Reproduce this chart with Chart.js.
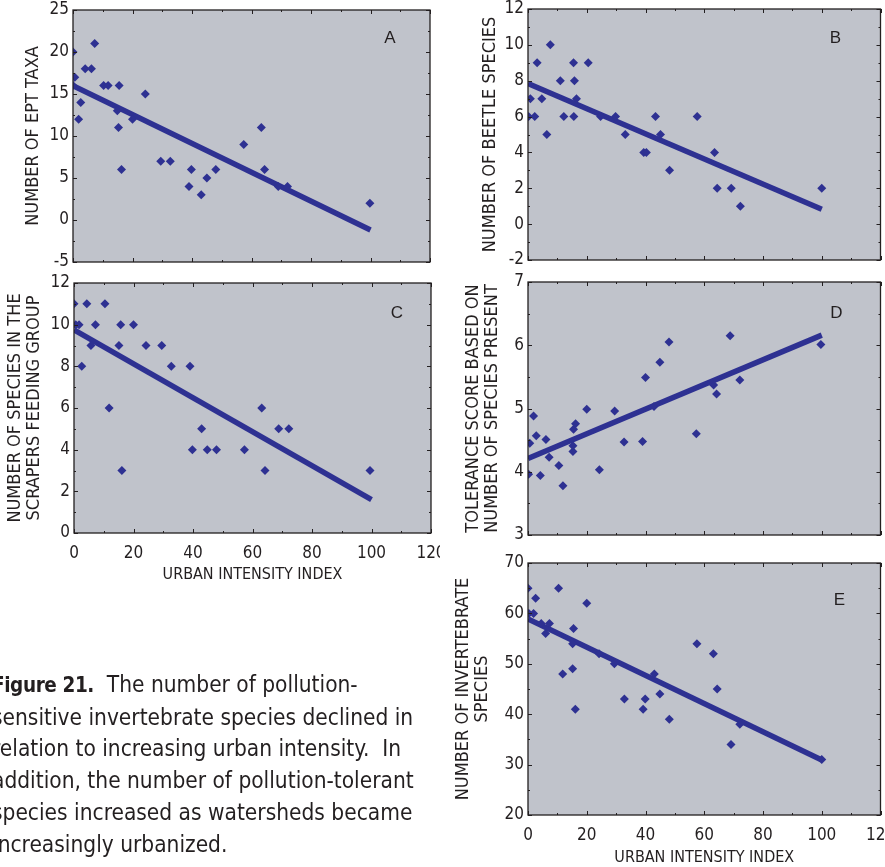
<!DOCTYPE html>
<html>
<head>
<meta charset="utf-8">
<script src="https://cdn.jsdelivr.net/npm/chart.js@4.4.1/dist/chart.umd.min.js"></script>
<style>
  body { margin: 0; background: #fff; width: 885px; height: 867px; overflow: hidden; position: relative;
         font-family: "Liberation Sans Narrow", "Arial Narrow", "DejaVu Sans Condensed", sans-serif; color: #231f20; }
  canvas { position: absolute; }
  .caption { position: absolute; left: -8px; top: 669px; width: 480px; font-size: 22.5px; line-height: 31.7px; }
  .caption b { font-weight: bold; font-size: 20.5px; letter-spacing: -0.4px; }
</style>
</head>
<body>
<canvas id="chart-a" width="440" height="272" style="left:0;top:0"></canvas>
<canvas id="chart-b" width="445" height="272" style="left:440px;top:0"></canvas>
<canvas id="chart-c" width="440" height="320" style="left:0;top:270px"></canvas>
<canvas id="chart-d" width="445" height="272" style="left:440px;top:270px"></canvas>
<canvas id="chart-e" width="445" height="317" style="left:440px;top:550px"></canvas>
<div class="caption"><b>Figure 21.</b>&nbsp; The number of pollution-<br>sensitive invertebrate species declined in<br>relation to increasing urban intensity.&nbsp; In<br>addition, the number of pollution-tolerant<br>species increased as watersheds became<br>increasingly urbanized.</div>

<script>
// --- DATA ---
const trendX = [0, 100];

// A. EPT taxa
const urbanA = [0, 0.6, 0, 2.6, 1.9, 4.1, 6.2, 7.3, 10.3, 11.8, 15.5, 14.9, 15.3, 16.3, 20, 24.3, 29.5, 32.7, 39, 39.8, 43.1, 45, 48, 57.4, 63.3, 64.4, 69, 72.1, 99.8];
const eptTaxa = [20, 17, 16, 14, 12, 18, 18, 21, 16, 16, 16, 13, 11, 6, 12, 15, 7, 7, 4, 6, 3, 5, 6, 9, 11, 6, 4, 4, 2];
const eptTrend = [16.0, -1.2];

// B. Beetle species
const urbanB = [0.2, 0.8, 2.3, 3.1, 4.7, 6.4, 7.6, 11, 12.2, 15.5, 15.8, 16.5, 15.6, 20.5, 24.7, 29.8, 33.1, 39.4, 40.3, 43.4, 45.1, 48.2, 57.6, 63.5, 64.4, 69.2, 72.3, 100];
const beetleSpecies = [6, 7, 6, 9, 7, 5, 10, 8, 6, 9, 8, 7, 6, 9, 6, 6, 5, 4, 4, 6, 5, 3, 6, 4, 2, 2, 1, 2];
const beetleTrend = [7.85, 0.83];

// C. Scrapers feeding group
const urbanC = [0, 0.6, 1.7, 2.6, 4.3, 5.7, 7.2, 10.4, 11.8, 15.7, 15.1, 16.1, 20, 24.2, 29.5, 32.7, 39, 39.8, 42.9, 44.8, 47.9, 57.3, 63.1, 64.2, 68.8, 72.2, 99.5];
const scraperSpecies = [11, 10, 10, 8, 11, 9, 10, 11, 6, 10, 9, 3, 10, 9, 9, 8, 8, 4, 5, 4, 4, 4, 6, 3, 5, 5, 3];
const scraperTrend = [9.75, 1.6];

// D. Tolerance score
const urbanD = [0.2, 0.6, 1.9, 2.8, 4.2, 6.1, 7.2, 10.5, 11.9, 15.3, 15.3, 15.5, 16.2, 20, 24.3, 29.5, 32.7, 39, 40, 42.9, 44.9, 48, 57.3, 63.2, 64.2, 68.8, 72.1, 99.7];
const toleranceScore = [3.96, 4.45, 4.88, 4.57, 3.94, 4.51, 4.23, 4.1, 3.78, 4.32, 4.41, 4.67, 4.76, 4.99, 4.03, 4.96, 4.47, 4.48, 5.49, 5.03, 5.73, 6.05, 4.6, 5.37, 5.23, 6.15, 5.45, 6.01];
const toleranceTrend = [4.21, 6.16];

// E. Invertebrate species
const urbanE = [0, 0.3, 1.9, 2.6, 4.5, 6, 7.3, 10.4, 11.8, 15.5, 15.2, 15.2, 16.1, 20, 24.2, 29.4, 32.8, 39.2, 39.9, 43, 44.9, 48.1, 57.5, 63.1, 64.4, 69.1, 72.1, 100];
const invertSpecies = [65, 60, 60, 63, 58, 56, 58, 65, 48, 57, 54, 49, 41, 62, 52, 50, 43, 41, 43, 48, 44, 39, 54, 52, 45, 34, 38, 31];
const invertTrend = [58.9, 30.9];

const BLUE = '#2e3192';
const PANEL_BG = '#c0c3cb';
const INK = '#231f20';
const NARROW = '"Liberation Sans Narrow", "Arial Narrow", "DejaVu Sans Condensed", sans-serif';

// frame, inward tick marks and panel letter
const panelFrame = {
    id: 'panelFrame',
    beforeDraw(chart) {
        const { ctx, chartArea: a } = chart;
        ctx.save();
        ctx.fillStyle = PANEL_BG;
        ctx.fillRect(a.left, a.top, a.right - a.left, a.bottom - a.top);
        ctx.restore();
    },
    afterDraw(chart, args, opts) {
        const { ctx, chartArea: a, scales } = chart;
        ctx.save();
        ctx.strokeStyle = INK;
        ctx.lineWidth = 1;

        const majorMinor = (scale) => {
            const major = scale.ticks.map(t => t.value);
            const minor = [];
            for (let i = 0; i < major.length - 1; i++) minor.push((major[i] + major[i + 1]) / 2);
            return { major, minor };
        };

        // x ticks (top and bottom)
        const xs = majorMinor(scales.x);
        [[xs.major, 4], [xs.minor, 2]].forEach(([vals, len]) => {
            vals.forEach(v => {
                const px = Math.round(scales.x.getPixelForValue(v)) + 0.5;
                ctx.beginPath();
                ctx.moveTo(px, a.bottom); ctx.lineTo(px, a.bottom - len);
                ctx.moveTo(px, a.top); ctx.lineTo(px, a.top + len);
                ctx.stroke();
            });
        });
        // y ticks (left and right)
        const ys = majorMinor(scales.y);
        [[ys.major, 4], [ys.minor, 2]].forEach(([vals, len]) => {
            vals.forEach(v => {
                const py = Math.round(scales.y.getPixelForValue(v)) + 0.5;
                ctx.beginPath();
                ctx.moveTo(a.left, py); ctx.lineTo(a.left + len, py);
                ctx.moveTo(a.right, py); ctx.lineTo(a.right - len, py);
                ctx.stroke();
            });
        });

        ctx.lineWidth = 1.3;
        ctx.strokeRect(a.left, a.top, a.right - a.left, a.bottom - a.top);

        // panel letter
        ctx.fillStyle = INK;
        ctx.font = '17px "Liberation Sans", Arial, sans-serif';
        ctx.textAlign = 'center';
        ctx.textBaseline = 'middle';
        ctx.fillText(opts.letter, a.right - opts.dx, a.top + opts.dy);
        ctx.restore();
    }
};

function makePanel(canvasId, p) {
    const points = p.x.map((x, i) => ({ x, y: p.y[i] }));
    const trend = trendX.map((x, i) => ({ x, y: p.trend[i] }));
    return new Chart(document.getElementById(canvasId), {
        type: 'scatter',
        data: {
            datasets: [
                {
                    data: points,
                    pointStyle: 'rectRot',
                    pointRadius: 4.5,
                    backgroundColor: BLUE,
                    borderWidth: 0,
                    order: 0
                },
                {
                    type: 'line',
                    data: trend,
                    borderColor: BLUE,
                    borderWidth: 5.5,
                    pointRadius: 0,
                    fill: false,
                    order: 1
                }
            ]
        },
        options: {
            responsive: false,
            animation: false,
            events: [],
            layout: { padding: p.pad },
            plugins: {
                legend: { display: false },
                tooltip: { enabled: false },
                panelFrame: { letter: p.letter, dx: p.letterDx, dy: p.letterDy }
            },
            scales: {
                x: {
                    type: 'linear',
                    min: 0, max: 120,
                    grid: { display: false, drawTicks: false },
                    border: { display: false },
                    ticks: {
                        stepSize: 20,
                        display: p.xLabels,
                        padding: 10,
                        color: INK,
                        font: { family: NARROW, size: 17 }
                    },
                    title: {
                        display: p.xLabels,
                        text: 'URBAN INTENSITY INDEX',
                        color: INK,
                        font: { family: NARROW, size: 16 },
                        padding: { bottom: p.xTitlePad || 0 }
                    },
                    afterFit: s => { s.height = p.xHeight; s.paddingLeft = 0; s.paddingRight = 0; }
                },
                y: {
                    type: 'linear',
                    min: p.yMin, max: p.yMax,
                    grid: { display: false, drawTicks: false },
                    border: { display: false },
                    ticks: {
                        stepSize: p.yStep,
                        padding: 4,
                        color: INK,
                        font: { family: NARROW, size: 17 }
                    },
                    title: {
                        display: true,
                        text: p.yTitle,
                        color: INK,
                        font: { family: NARROW, size: 18, lineHeight: 1.1 },
                        padding: { top: p.titlePad }
                    },
                    afterFit: s => { s.width = p.yWidth; s.paddingTop = 0; s.paddingBottom = 0; }
                }
            }
        },
        plugins: [panelFrame]
    });
}

makePanel('chart-a', {
    x: urbanA, y: eptTaxa, trend: eptTrend,
    yMin: -5, yMax: 25, yStep: 5,
    yTitle: 'NUMBER OF EPT TAXA', titlePad: 23,
    letter: 'A', letterDx: 40, letterDy: 28,
    pad: { left: 0, top: 10, right: 10, bottom: 0 }, yWidth: 73, xHeight: 10, xLabels: false
});

makePanel('chart-b', {
    x: urbanB, y: beetleSpecies, trend: beetleTrend,
    yMin: -2, yMax: 12, yStep: 2,
    yTitle: 'NUMBER OF BEETLE SPECIES', titlePad: 40,
    letter: 'B', letterDx: 45, letterDy: 29,
    pad: { left: 0, top: 9, right: 3, bottom: 0 }, yWidth: 88, xHeight: 12, xLabels: false
});

makePanel('chart-c', {
    x: urbanC, y: scraperSpecies, trend: scraperTrend,
    yMin: 0, yMax: 12, yStep: 2,
    yTitle: ['NUMBER OF SPECIES IN THE', 'SCRAPERS FEEDING GROUP'], titlePad: 5,
    letter: 'C', letterDx: 34, letterDy: 30,
    pad: { left: 0, top: 13, right: 9, bottom: 0 }, yWidth: 74, xHeight: 57, xLabels: true, xTitlePad: 6
});

makePanel('chart-d', {
    x: urbanD, y: toleranceScore, trend: toleranceTrend,
    yMin: 3, yMax: 7, yStep: 1,
    yTitle: ['TOLERANCE SCORE BASED ON', 'NUMBER OF SPECIES PRESENT'], titlePad: 23,
    letter: 'D', letterDx: 44, letterDy: 31,
    pad: { left: 0, top: 12, right: 3, bottom: 0 }, yWidth: 88, xHeight: 7, xLabels: false
});

makePanel('chart-e', {
    x: urbanE, y: invertSpecies, trend: invertTrend,
    yMin: 20, yMax: 70, yStep: 10,
    yTitle: ['NUMBER OF INVERTEBRATE', 'SPECIES'], titlePad: 13,
    letter: 'E', letterDx: 41, letterDy: 37,
    pad: { left: 0, top: 13, right: 1, bottom: 0 }, yWidth: 88, xHeight: 52, xLabels: true, xTitlePad: 0
});
</script>
</body>
</html>
